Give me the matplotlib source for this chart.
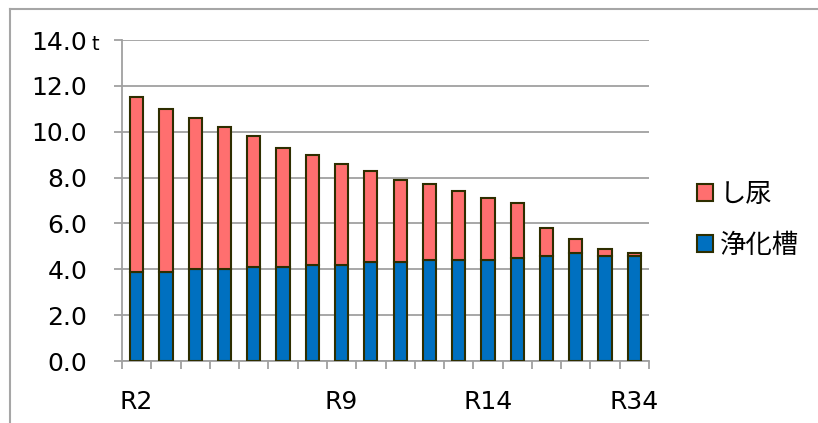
import numpy as np
import matplotlib
matplotlib.use('Agg')
import matplotlib.pyplot as plt
from matplotlib.patches import Patch
from matplotlib.lines import Line2D

plt.rcParams['font.family'] = ['DejaVu Sans', 'Noto Sans CJK JP']

#%% data
years = ['R2', '', '', '', '', '', '', 'R9', '', '', '', '',
         'R14', '', '', '', '', 'R34']
jokaso = [3.9, 3.9, 4.0, 4.0, 4.1, 4.1, 4.2, 4.2, 4.3, 4.3,
          4.4, 4.4, 4.4, 4.5, 4.6, 4.7, 4.6, 4.6]
total = [11.5, 11.0, 10.6, 10.2, 9.8, 9.3, 9.0, 8.6, 8.3, 7.9,
         7.7, 7.4, 7.1, 6.9, 5.8, 5.3, 4.9, 4.7]
shinyo = [t - j for t, j in zip(total, jokaso)]

red = '#FF6F6F'
blue = '#0070C0'
edge = '#2E2E00'
grey = '#A0A0A0'

#%%
fig = plt.figure(figsize=(8.18, 4.23), dpi=100)
ax = fig.add_axes([122/818, 62/423, 527/818, 321/423])

x = np.arange(len(years))
ax.bar(x, jokaso, width=0.45, color=blue, edgecolor=edge, linewidth=1.5, zorder=3)
ax.bar(x, shinyo, width=0.45, bottom=jokaso, color=red, edgecolor=edge, linewidth=1.5, zorder=3)

ax.set_xlim(-0.5, len(years) - 0.5)
ax.set_ylim(0, 14)
ax.set_yticks(np.arange(0, 14.1, 2))
ax.set_yticklabels(['%.1f' % v for v in np.arange(0, 14.1, 2)])
ax.set_xticks(x)
ax.set_xticklabels(years)
ax.set_xticks(np.arange(-0.5, len(years), 1), minor=True)

ax.yaxis.grid(True, color=grey, linewidth=1.3, zorder=0)
ax.set_axisbelow(True)
for s in ['top', 'right']:
    ax.spines[s].set_visible(False)
for s in ['left', 'bottom']:
    ax.spines[s].set_color(grey)
    ax.spines[s].set_linewidth(1.3)

ax.tick_params(axis='y', direction='out', length=6, width=1.3, color=grey,
               pad=19, labelsize=18)
ax.tick_params(axis='x', which='major', length=0, pad=21, labelsize=18)
ax.tick_params(axis='x', which='minor', direction='out', length=6, width=1.3, color=grey)

fig.text(92/818, 1 - 54/423, 't', fontsize=14, ha='left', va='bottom')

handles = [Patch(facecolor=red, edgecolor=edge, linewidth=1.5),
           Patch(facecolor=blue, edgecolor=edge, linewidth=1.5)]
fig.legend(handles, ['し尿', '浄化槽'], loc='upper left',
           bbox_to_anchor=(697/818, 1 - 182/423), frameon=False, fontsize=19,
           handlelength=0.62, handleheight=0.62, handletextpad=0.25,
           labelspacing=0.95, borderaxespad=0, borderpad=0)

# outer chart frame
fig.add_artist(Line2D([10/818, 1], [1 - 9/423, 1 - 9/423], color='#A6A6A6', linewidth=1.5,
                      transform=fig.transFigure))
fig.add_artist(Line2D([10/818, 10/818], [0, 1 - 9/423], color='#A6A6A6', linewidth=1.5,
                      transform=fig.transFigure))

plt.savefig('out.png', dpi=100)
